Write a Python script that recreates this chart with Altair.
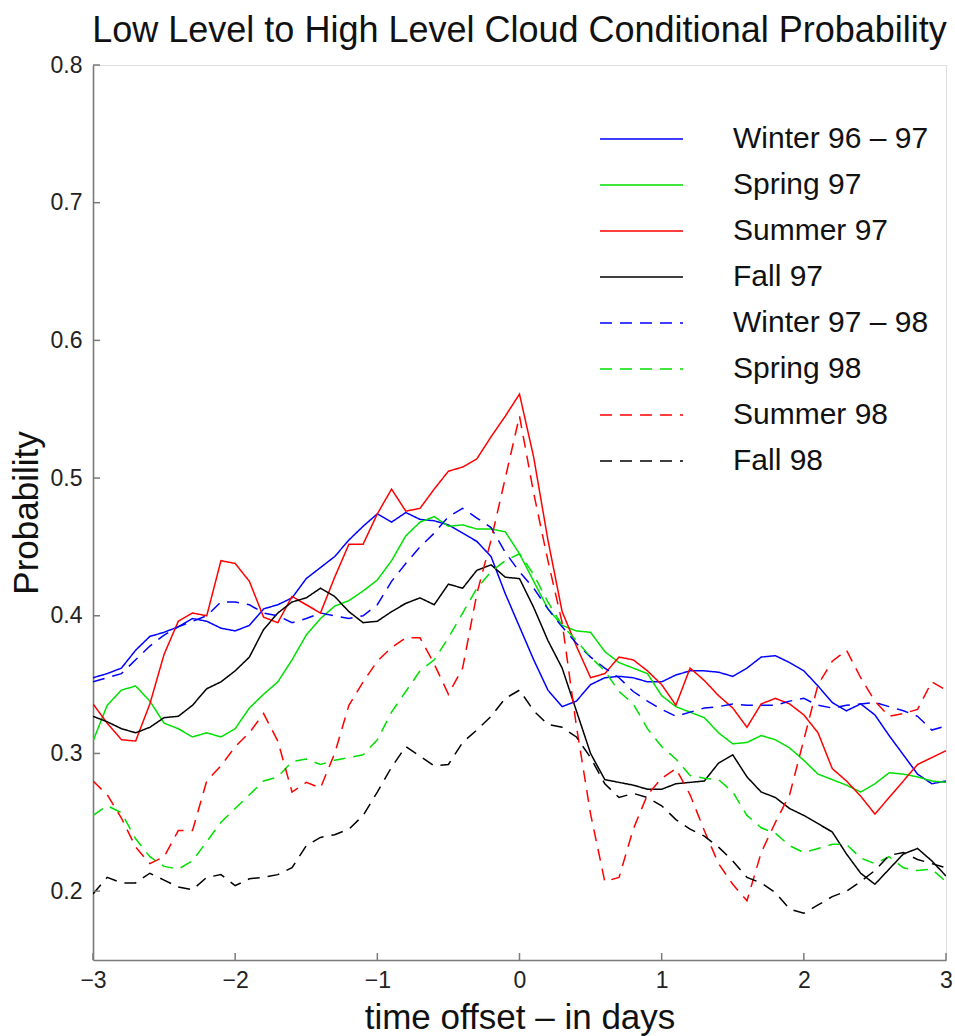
import altair as alt
import pandas as pd

# time offset grid (days) shared by every season curve
t_days = [round(-3 + 0.1 * i, 1) for i in range(61)]

seasons = ["Winter 96 – 97", "Spring 97", "Summer 97", "Fall 97",
           "Winter 97 – 98", "Spring 98", "Summer 98", "Fall 98"]
colors = ["#0000ff", "#00e000", "#ff0000", "#000000",
          "#0000ff", "#00e000", "#ff0000", "#000000"]
dashes = [[1, 0]] * 4 + [[12, 8]] * 4

winter_96_97 = [0.355, 0.358, 0.362, 0.375, 0.385, 0.388, 0.392, 0.398, 0.396, 0.391,
                0.389, 0.393, 0.405, 0.408, 0.413, 0.427, 0.435, 0.443, 0.455, 0.465,
                0.474, 0.468, 0.475, 0.470, 0.469, 0.466, 0.460, 0.454, 0.443, 0.416,
                0.392, 0.368, 0.346, 0.334, 0.338, 0.350, 0.355, 0.356, 0.355, 0.352,
                0.352, 0.357, 0.360, 0.360, 0.359, 0.356, 0.362, 0.370, 0.371, 0.366,
                0.360, 0.349, 0.337, 0.331, 0.336, 0.328, 0.313, 0.299, 0.285, 0.278,
                0.280]
spring_97 = [0.309, 0.335, 0.346, 0.349, 0.338, 0.322, 0.318, 0.312, 0.315, 0.312,
             0.318, 0.333, 0.343, 0.352, 0.368, 0.386, 0.398, 0.407, 0.411, 0.418,
             0.426, 0.440, 0.458, 0.468, 0.472, 0.465, 0.466, 0.463, 0.463, 0.461,
             0.445, 0.425, 0.405, 0.393, 0.389, 0.388, 0.374, 0.366, 0.362, 0.358,
             0.342, 0.334, 0.330, 0.326, 0.315, 0.307, 0.308, 0.313, 0.310, 0.304,
             0.295, 0.285, 0.281, 0.277, 0.272, 0.278, 0.286, 0.285, 0.283, 0.280,
             0.279]
summer_97 = [0.336, 0.322, 0.310, 0.309, 0.336, 0.372, 0.396, 0.402, 0.400, 0.440,
             0.438, 0.425, 0.399, 0.395, 0.414, 0.408, 0.402, 0.428, 0.452, 0.452,
             0.474, 0.492, 0.476, 0.478, 0.492, 0.505, 0.508, 0.514, 0.530, 0.545,
             0.561, 0.515, 0.455, 0.403, 0.378, 0.355, 0.358, 0.370, 0.368, 0.360,
             0.350, 0.335, 0.362, 0.353, 0.342, 0.333, 0.319, 0.336, 0.340, 0.336,
             0.328, 0.315, 0.289, 0.280, 0.269, 0.256, 0.268, 0.280, 0.292, 0.297,
             0.302]
fall_97 = [0.327, 0.323, 0.318, 0.315, 0.319, 0.326, 0.327, 0.335, 0.347, 0.352,
           0.360, 0.370, 0.390, 0.402, 0.410, 0.413, 0.420, 0.414, 0.403, 0.395,
           0.396, 0.403, 0.409, 0.413, 0.408, 0.423, 0.420, 0.433, 0.437, 0.428,
           0.427, 0.406, 0.382, 0.362, 0.331, 0.300, 0.281, 0.279, 0.277, 0.274,
           0.274, 0.278, 0.279, 0.280, 0.293, 0.299, 0.283, 0.272, 0.268, 0.260,
           0.255, 0.249, 0.243, 0.227, 0.213, 0.205, 0.216, 0.227, 0.231, 0.222,
           0.211]
winter_97_98 = [0.352, 0.355, 0.358, 0.368, 0.378, 0.386, 0.392, 0.396, 0.400, 0.410,
                0.410, 0.408, 0.402, 0.400, 0.395, 0.398, 0.402, 0.400, 0.398, 0.400,
                0.408, 0.425, 0.438, 0.450, 0.460, 0.472, 0.478, 0.471, 0.464, 0.446,
                0.432, 0.420, 0.405, 0.392, 0.380, 0.370, 0.362, 0.355, 0.345, 0.338,
                0.332, 0.327, 0.330, 0.333, 0.334, 0.336, 0.335, 0.335, 0.335, 0.338,
                0.340, 0.335, 0.333, 0.335, 0.336, 0.337, 0.334, 0.331, 0.327, 0.317,
                0.320]
spring_98 = [0.255, 0.262, 0.257, 0.238, 0.225, 0.218, 0.216, 0.222, 0.236, 0.250,
             0.260, 0.270, 0.280, 0.283, 0.294, 0.296, 0.292, 0.295, 0.297, 0.299,
             0.310, 0.330, 0.345, 0.360, 0.368, 0.384, 0.402, 0.420, 0.432, 0.440,
             0.445, 0.430, 0.410, 0.393, 0.382, 0.370, 0.360, 0.345, 0.336, 0.318,
             0.305, 0.296, 0.284, 0.282, 0.281, 0.272, 0.255, 0.246, 0.242, 0.233,
             0.228, 0.231, 0.234, 0.234, 0.224, 0.220, 0.225, 0.217, 0.215, 0.216,
             0.207]
summer_98 = [0.280, 0.270, 0.253, 0.232, 0.220, 0.225, 0.244, 0.244, 0.280, 0.291,
             0.305, 0.315, 0.329, 0.309, 0.272, 0.279, 0.275, 0.300, 0.335, 0.352,
             0.367, 0.377, 0.384, 0.384, 0.365, 0.343, 0.362, 0.416, 0.455, 0.500,
             0.545, 0.489, 0.440, 0.395, 0.320, 0.256, 0.207, 0.210, 0.245, 0.270,
             0.282, 0.289, 0.270, 0.244, 0.220, 0.205, 0.193, 0.228, 0.250, 0.270,
             0.310, 0.350, 0.367, 0.375, 0.355, 0.338, 0.327, 0.329, 0.332, 0.352,
             0.346]
fall_98 = [0.198, 0.210, 0.206, 0.206, 0.213, 0.208, 0.203, 0.201, 0.210, 0.212,
           0.204, 0.209, 0.210, 0.212, 0.217, 0.233, 0.239, 0.241, 0.245, 0.255,
           0.272, 0.290, 0.305, 0.298, 0.291, 0.292, 0.308, 0.317, 0.327, 0.340,
           0.346, 0.331, 0.321, 0.319, 0.312, 0.297, 0.278, 0.268, 0.271, 0.268,
           0.262, 0.252, 0.245, 0.240, 0.232, 0.222, 0.210, 0.206, 0.199, 0.187,
           0.184, 0.190, 0.196, 0.200, 0.207, 0.215, 0.226, 0.228, 0.223, 0.220,
           0.217]

series = [winter_96_97, spring_97, summer_97, fall_97,
          winter_97_98, spring_98, summer_98, fall_98]

x_ticks = [-3, -2, -1, 0, 1, 2, 3]
y_ticks = [0.2, 0.3, 0.4, 0.5, 0.6, 0.7, 0.8]

rows = []
for name, vals in zip(seasons, series):
    for t, p in zip(t_days, vals):
        rows.append({"season": name, "t": t, "p": p})
df = pd.DataFrame(rows)

FONT = "Liberation Sans"
W, H = 853, 895
AXIS_GRAY = "#7a7a7a"

color_enc = alt.Color("season:N", scale=alt.Scale(domain=seasons, range=colors), legend=None)
dash_enc = alt.StrokeDash("season:N", scale=alt.Scale(domain=seasons, range=dashes), legend=None)

x_enc = alt.X("t:Q", scale=alt.Scale(domain=[-3, 3], nice=False),
              axis=alt.Axis(values=x_ticks, format="d", title="time offset – in days",
                            grid=False, ticks=False, tickSize=0, labelPadding=9,
                            labelFlush=False,
                            labelFontSize=23, labelFont=FONT, labelColor="#222222",
                            titleFontSize=35, titleFont=FONT, titleFontWeight="normal",
                            titleColor="#111111", titlePadding=8,
                            domainColor=AXIS_GRAY, domainWidth=1.6))
y_enc = alt.Y("p:Q", scale=alt.Scale(domain=[0.15, 0.8], nice=False, zero=False),
              axis=alt.Axis(values=y_ticks, format=".1f", title="Probability",
                            grid=False, ticks=False, tickSize=0, labelPadding=11,
                            labelFlush=False,
                            labelFontSize=23, labelFont=FONT, labelColor="#222222",
                            titleFontSize=35, titleFont=FONT, titleFontWeight="normal",
                            titleColor="#111111", titlePadding=6,
                            domainColor=AXIS_GRAY, domainWidth=1.6))

lines = alt.Chart(df).mark_line(strokeWidth=1.5, clip=True).encode(
    x=x_enc, y=y_enc, color=color_enc, strokeDash=dash_enc, order="t:Q"
)

# inward-pointing tick marks
ytick_df = pd.DataFrame({"p": y_ticks})
xtick_df = pd.DataFrame({"t": x_ticks})
yticks = alt.Chart(ytick_df).mark_rule(color=AXIS_GRAY, strokeWidth=1.5).encode(
    y="p:Q", x=alt.value(0), x2=alt.value(7))
xticks = alt.Chart(xtick_df).mark_rule(color=AXIS_GRAY, strokeWidth=1.5).encode(
    x="t:Q", y=alt.value(H), y2=alt.value(H - 7))

# legend drawn inside the plot, top right
leg_df = pd.DataFrame({"season": seasons, "row": list(range(len(seasons)))})
leg_base = alt.Chart(leg_df).transform_calculate(ly="74 + 46 * datum.row")
leg_lines = leg_base.mark_rule(strokeWidth=1.5).encode(
    y=alt.Y("ly:Q", scale=None), x=alt.value(507), x2=alt.value(590),
    color=color_enc, strokeDash=dash_enc)
leg_text = leg_base.mark_text(align="left", baseline="middle", fontSize=30,
                              font=FONT, color="#111111").encode(
    y=alt.Y("ly:Q", scale=None), x=alt.value(640), text="season:N")

chart = alt.layer(lines, yticks, xticks, leg_lines, leg_text).properties(
    width=W, height=H,
    title=alt.TitleParams("Low Level to High Level Cloud Conditional Probability",
                          fontSize=36, font=FONT, fontWeight="normal", color="#111111",
                          anchor="middle", offset=4),
    autosize=alt.AutoSizeParams(type="none"),
    padding={"left": 93, "top": 65, "right": 9, "bottom": 76},
).configure_view(stroke=None).configure(background="white")

chart.save("out.html", embed_options={"renderer": "svg", "actions": False})
